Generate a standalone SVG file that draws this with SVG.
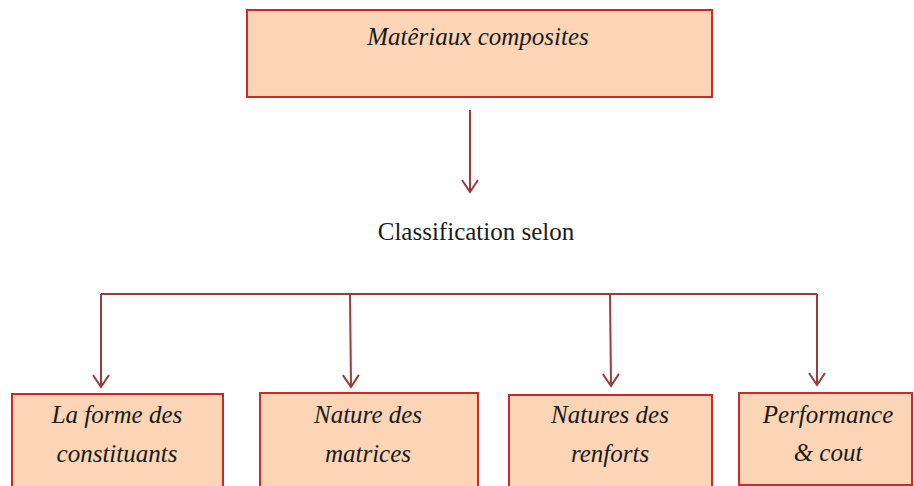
<svg xmlns="http://www.w3.org/2000/svg" width="914" height="486" viewBox="0 0 914 486">
<style>
.box{fill:#fbd5b5;stroke:#d02828;stroke-width:2}
.it{font-family:"Liberation Serif","Times New Roman",serif;font-style:italic;font-size:25px;fill:#1a1a1a;text-anchor:middle}
.rg{font-family:"Liberation Serif","Times New Roman",serif;font-size:25px;fill:#1a1a1a;text-anchor:middle}
.ln{fill:none;stroke:#9b3b3b;stroke-width:2}
</style>
<defs>
<marker id="ah" viewBox="0 0 20 20" refX="18" refY="10" markerWidth="20" markerHeight="20" markerUnits="userSpaceOnUse" orient="auto">
<path d="M6,2 L18,10 L6,18" fill="none" stroke="#9b3b3b" stroke-width="2"/>
</marker>
</defs>
<g id="top">
<rect class="box" x="247" y="10" width="465" height="87"/>
<text class="it" x="478" y="45">Matêriaux composites</text>
</g>
<g id="classification">
<text class="rg" x="476" y="240">Classification selon</text>
</g>
<g id="connectors">
<line class="ln" x1="470" y1="110" x2="470" y2="192" marker-end="url(#ah)"/>
<polyline class="ln" points="101,294 817,294"/>
<line class="ln" x1="101" y1="294" x2="101" y2="387" marker-end="url(#ah)"/>
<line class="ln" x1="350" y1="294" x2="351" y2="387" marker-end="url(#ah)"/>
<line class="ln" x1="610" y1="294" x2="611" y2="386" marker-end="url(#ah)"/>
<line class="ln" x1="817" y1="294" x2="817" y2="385" marker-end="url(#ah)"/>
</g>
<g id="n1">
<rect class="box" x="12" y="394" width="211" height="100"/>
<text class="it" x="117" y="423">La forme des</text>
<text class="it" x="117" y="462">constituants</text>
</g>
<g id="n2">
<rect class="box" x="260" y="393" width="218" height="100"/>
<text class="it" x="368" y="423">Nature des</text>
<text class="it" x="368" y="462">matrices</text>
</g>
<g id="n3">
<rect class="box" x="509" y="395" width="203" height="100"/>
<text class="it" x="610" y="423">Natures des</text>
<text class="it" x="610" y="462">renforts</text>
</g>
<g id="n4">
<rect class="box" x="739" y="393" width="173" height="92"/>
<text class="it" x="828" y="423">Performance</text>
<text class="it" x="828" y="461">&amp; cout</text>
</g>
</svg>
